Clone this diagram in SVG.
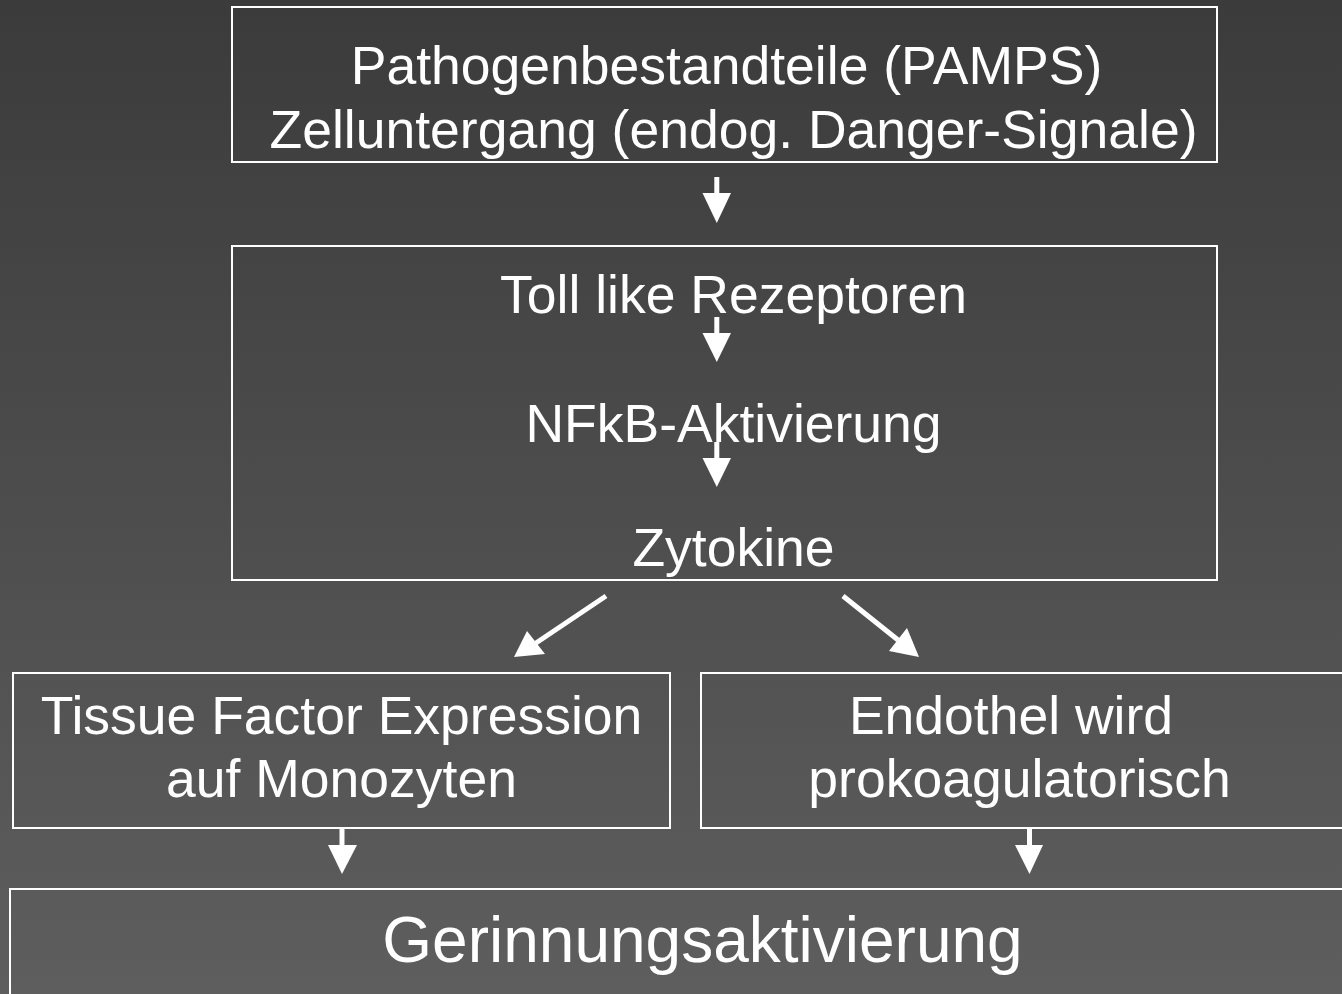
<svg xmlns="http://www.w3.org/2000/svg" width="1342" height="994" viewBox="0 0 1342 994">
<defs>
<linearGradient id="bg" x1="0" y1="0" x2="0" y2="1">
<stop offset="0" stop-color="#3b3b3b"/>
<stop offset="1" stop-color="#5e5e5e"/>
</linearGradient>
<style>
.box{fill:none;stroke:#ffffff;stroke-width:2}
.t{font-family:"Liberation Sans",Arial,sans-serif;font-size:53.5px;fill:#ffffff;text-anchor:middle}
.big{font-size:64px}
.shaft{stroke:#ffffff;stroke-width:5;fill:none}
.head{fill:#ffffff;stroke:none}
</style>
</defs>
<rect x="0" y="0" width="1342" height="994" fill="url(#bg)"/>
<g id="node-pamps">
<rect class="box" x="232" y="7" width="985" height="155"/>
<text class="t" x="726.5" y="84">Pathogenbestandteile (PAMPS)</text>
<text class="t" x="733.5" y="148">Zelluntergang (endog. Danger-Signale)</text>
</g>
<g id="node-tlr">
<rect class="box" x="232" y="246" width="985" height="334"/>
<text class="t" x="733.5" y="313">Toll like Rezeptoren</text>
<text class="t" x="733.5" y="442">NFkB-Aktivierung</text>
<text class="t" x="733.5" y="566">Zytokine</text>
</g>
<g id="node-tissue">
<rect class="box" x="13" y="673" width="657" height="155"/>
<text class="t" x="341.5" y="734">Tissue Factor Expression</text>
<text class="t" x="341.5" y="797">auf Monozyten</text>
</g>
<g id="node-endothel">
<rect class="box" x="701" y="673" width="660" height="155"/>
<text class="t" x="1011" y="734">Endothel wird</text>
<text class="t" x="1019.5" y="797">prokoagulatorisch</text>
</g>
<g id="node-gerinnung">
<rect class="box" x="10" y="889" width="1360" height="140"/>
<text class="t big" x="702.5" y="962">Gerinnungsaktivierung</text>
</g>
<g id="connectors">
<line class="shaft" x1="716.8" y1="177" x2="716.8" y2="195"/>
<polygon class="head" points="702.5,193 731,193 716.8,223"/>
<line class="shaft" x1="716.8" y1="317" x2="716.8" y2="335"/>
<polygon class="head" points="702.5,333 731,333 716.8,362"/>
<line class="shaft" x1="716.8" y1="442" x2="716.8" y2="460"/>
<polygon class="head" points="702.5,458 731,458 716.8,487"/>
<line class="shaft" x1="342" y1="828" x2="342" y2="847"/>
<polygon class="head" points="328,845 357,845 342,874"/>
<line class="shaft" x1="1029.5" y1="828" x2="1029.5" y2="847"/>
<polygon class="head" points="1015,845 1043,845 1029.5,874"/>
<line class="shaft" x1="606" y1="596" x2="536" y2="643"/>
<polygon class="head" points="514,657 527,631 545,654"/>
<line class="shaft" x1="843" y1="596" x2="898" y2="640"/>
<polygon class="head" points="919,657 889,651 907,628"/>
</g>
</svg>
